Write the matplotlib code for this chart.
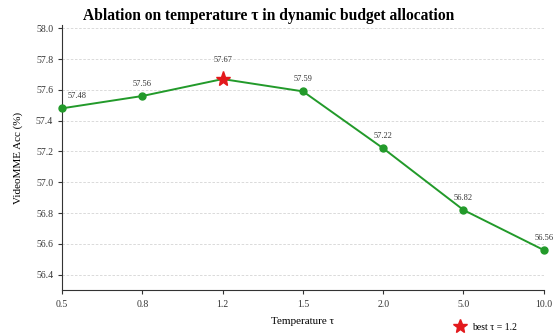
import matplotlib.pyplot as plt
from matplotlib.lines import Line2D

# data
temps = ['0.5', '0.8', '1.2', '1.5', '2.0', '5.0', '10.0']
acc = [57.48, 57.56, 57.67, 57.59, 57.22, 56.82, 56.56]
best_idx = 2

plt.rcParams['font.family'] = ['Liberation Serif', 'DejaVu Serif']

fig = plt.figure(figsize=(5.6, 3.35), dpi=100)
ax = fig.add_axes([0.111, 0.134, 0.86, 0.791])

x = list(range(len(temps)))
green = '#229a2a'
ax.plot(x, acc, color=green, lw=1.4, zorder=2)
others = [i for i in x if i != best_idx]
ax.plot(others, [acc[i] for i in others], 'o', color=green, ms=5, zorder=3, clip_on=False)
ax.plot(x[best_idx], acc[best_idx], '*', color='#e3191c', ms=11, zorder=4, clip_on=False)

for i, v in enumerate(acc):
    dy = 11 if i == best_idx else 6
    ha = 'left' if i == 0 else 'center'
    dx = 4 if i == 0 else 0
    ax.annotate(f'{v:.2f}', (i, v), xytext=(dx, dy), textcoords='offset points',
                ha=ha, va='bottom', fontsize=6, color='#333333')

ax.set_xlim(0, len(temps) - 1)
ax.set_ylim(56.3, 58.02)
ax.set_xticks(x)
ax.set_xticklabels(temps)
ax.set_yticks([56.4, 56.6, 56.8, 57.0, 57.2, 57.4, 57.6, 57.8, 58.0])
ax.tick_params(labelsize=7, length=3, color='#333333', labelcolor='#333333')
ax.tick_params(axis='x', pad=4)

ax.yaxis.grid(True, linestyle=(0, (3, 2)), color='#d4d4d4', lw=0.6)
ax.set_axisbelow(True)
for s in ['top', 'right']:
    ax.spines[s].set_visible(False)
for s in ['left', 'bottom']:
    ax.spines[s].set_color('#333333')

ax.set_xlabel('Temperature τ', fontsize=8, labelpad=6)
ax.set_ylabel('VideoMME Acc (%)', fontsize=8, labelpad=9)
fig.text(0.479, 0.975, 'Ablation on temperature τ in dynamic budget allocation',
         fontsize=11.2, fontweight='bold', ha='center', va='top')

handle = Line2D([], [], marker='*', color='#e3191c', ls='none', ms=10)
ax.legend([handle], ['best τ = 1.2'], loc='upper left', bbox_to_anchor=(0.795, -0.105),
          frameon=False, fontsize=7, handletextpad=0.3, borderpad=0)

fig.savefig('out.png', dpi=100)
